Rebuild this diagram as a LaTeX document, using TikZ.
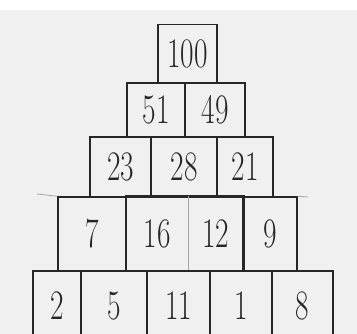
\documentclass[tikz,border=0pt]{standalone}
\newcommand\hwnum[1]{\scalebox{0.7}[1]{#1}}
\begin{document}
\begin{tikzpicture}[x=1pt,y=-1pt,
  ink/.style={draw=black!85, line width=1.5pt},
  cell/.style={ink, rectangle, inner sep=0pt, font=\fontsize{42}{42}\selectfont, text=black!85},
  faint/.style={draw=black!35, line width=0.8pt}]
\useasboundingbox (0,0) rectangle (357,334);
\fill[black!6] (0,0) rectangle (357,334);
\fill[white] (0,0) rectangle (357,10);
\clip (0,0) rectangle (357,334);
% row 1
\node[cell, minimum width=59pt, minimum height=59pt] (a1) at (187.5,54) {\hwnum{100}};
% row 2
\node[cell, minimum width=58pt, minimum height=54pt] (b1) at (156,110) {\hwnum{51}};
\node[cell, minimum width=60pt, minimum height=54pt] (b2) at (215,110) {\hwnum{49}};
% row 3
\node[cell, minimum width=61pt, minimum height=60pt] (c1) at (120.5,167) {\hwnum{23}};
\node[cell, minimum width=66pt, minimum height=60pt] (c2) at (184,167) {\hwnum{28}};
\node[cell, minimum width=56pt, minimum height=60pt] (c3) at (245,167) {\hwnum{21}};
% row 4
\node[cell, minimum width=68pt, minimum height=74pt] (d1) at (92,234) {\hwnum{7}};
\node[cell, draw=none, minimum width=62pt, minimum height=74pt] (d2) at (157,234) {\hwnum{16}};
\node[cell, draw=none, minimum width=55pt, minimum height=74pt] (d3) at (215.5,234) {\hwnum{12}};
\node[cell, minimum width=54pt, minimum height=74pt] (d4) at (270,234) {\hwnum{9}};
\draw[ink] (d2.north west) rectangle (d3.south east);
\draw[faint] (d2.north east) -- (d2.south east);
% row 5
\node[cell, minimum width=48pt, minimum height=70pt] (e1) at (57,306) {\hwnum{2}};
\node[cell, minimum width=66pt, minimum height=70pt] (e2) at (114,306) {\hwnum{5}};
\node[cell, minimum width=63pt, minimum height=70pt] (e3) at (178.5,306) {\hwnum{11}};
\node[cell, minimum width=62pt, minimum height=70pt] (e4) at (241,306) {\hwnum{1}};
\node[cell, minimum width=61pt, minimum height=70pt] (e5) at (302.5,306) {\hwnum{8}};
% stray marks
\coordinate (s1) at (37,194);
\coordinate (s2) at (308,197);
\draw[faint] (s1) -- (d1.north west);
\draw[faint] (d4.north east) -- (s2);
\end{tikzpicture}
\end{document}
